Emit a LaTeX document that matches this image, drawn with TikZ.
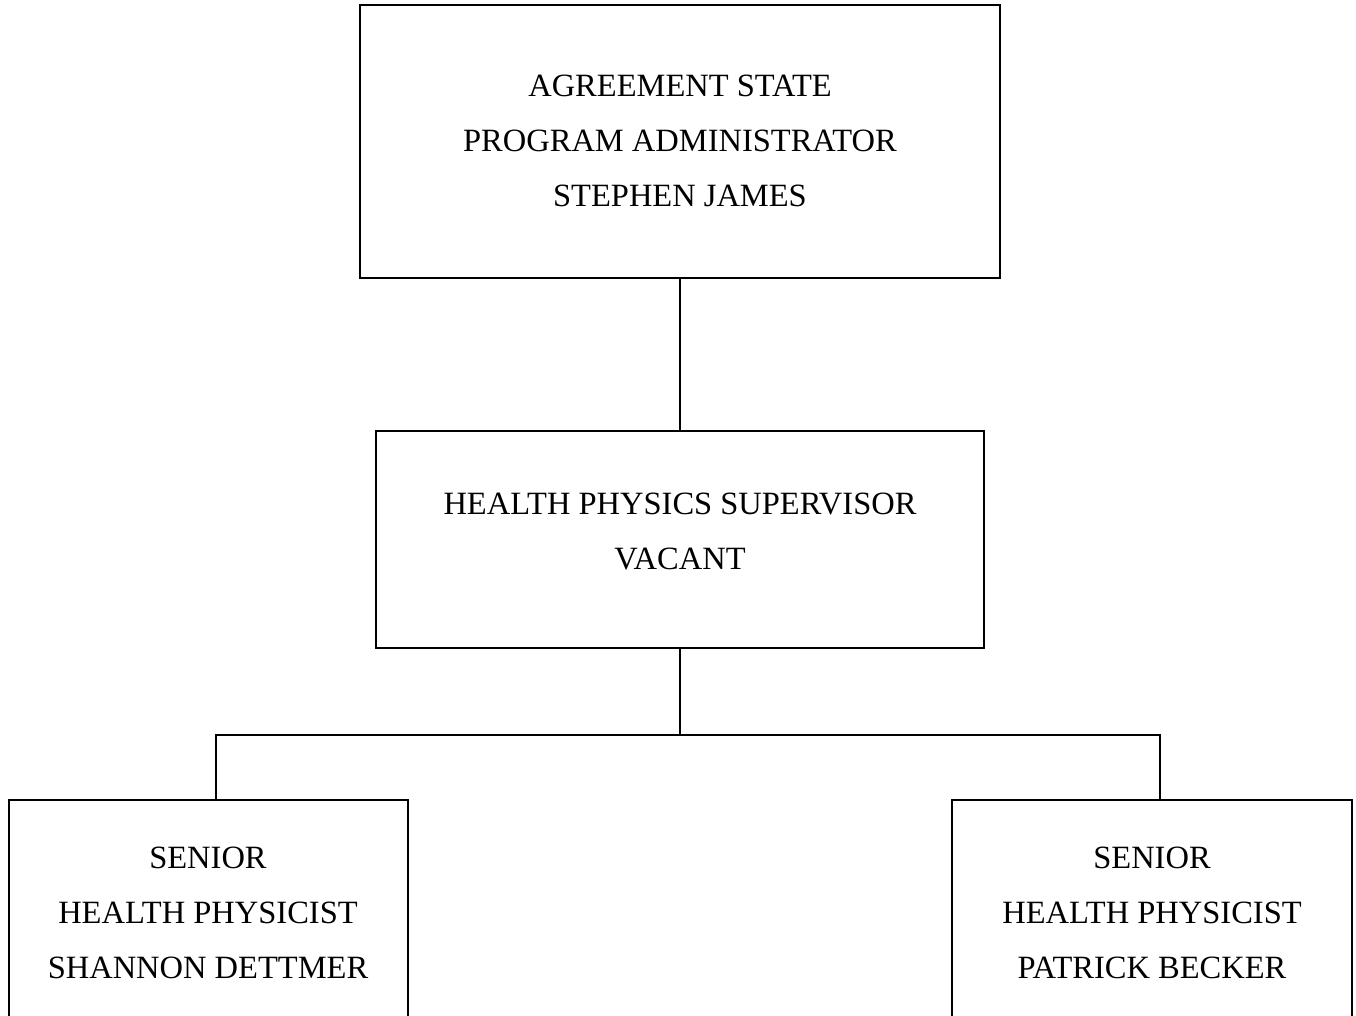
\documentclass[tikz,border=0pt]{standalone}
\usepackage{fontspec}
\setmainfont{Liberation Serif}
\begin{document}
\begin{tikzpicture}[x=1pt,y=-1pt,
  box/.style={draw=black,line width=1.8pt},
  conn/.style={draw=black,line width=1.8pt},
  lbl/.style={font=\fontsize{32.5}{55}\selectfont,align=center,inner sep=0pt}]
\useasboundingbox (0,0) rectangle (1356,1016);
% boxes
\draw[box] (360,5) rectangle (1000,278);
\draw[box] (376,431) rectangle (984,648);
\draw[box] (9,1040) -- (9,800) -- (408,800) -- (408,1040);
\draw[box] (952,1040) -- (952,800) -- (1352,800) -- (1352,1040);
% named anchors
\coordinate (topb) at (680,278);
\coordinate (midt) at (680,431);
\coordinate (midb) at (680,648);
\coordinate (junc) at (680,735);
\coordinate (lt) at (216,800);
\coordinate (rt) at (1160,800);
% texts
\node[lbl] (t1) at (680,141) {AGREEMENT STATE\\PROGRAM ADMINISTRATOR\\STEPHEN JAMES};
\node[lbl] (t2) at (680,531.5) {HEALTH PHYSICS SUPERVISOR\\VACANT};
\node[lbl] (t3) at (208,913) {SENIOR\\HEALTH PHYSICIST\\SHANNON DETTMER};
\node[lbl] (t4) at (1152,913) {SENIOR\\HEALTH PHYSICIST\\PATRICK BECKER};
% connectors
\draw[conn] (topb) -- (midt);
\draw[conn] (midb) -- (junc);
\draw[conn] (lt) |- (junc) -| (rt);
\end{tikzpicture}
\end{document}
